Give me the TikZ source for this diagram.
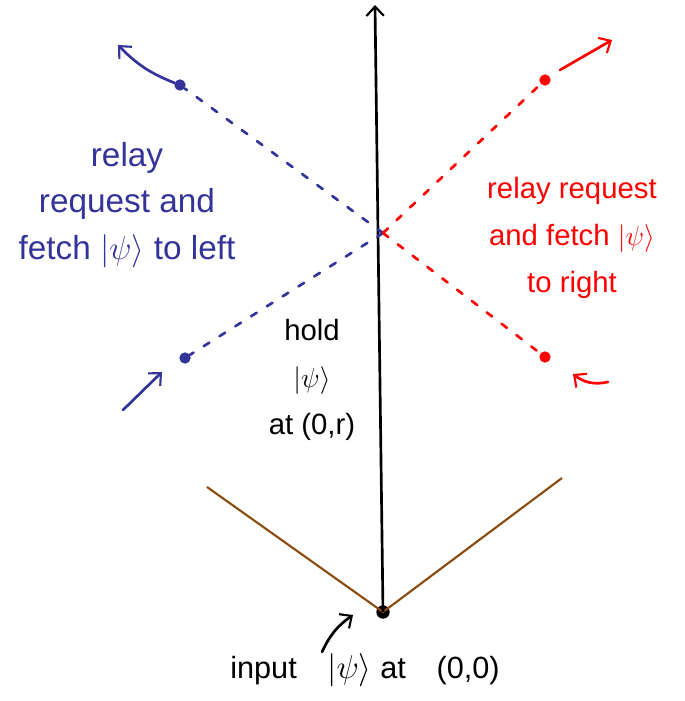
\documentclass[tikz,border=0pt]{standalone}
\usepackage{fontspec}
\setmainfont{Liberation Sans}
\usetikzlibrary{arrows.meta}
\definecolor{pen blue}{RGB}{51,51,153}
\definecolor{pen brown}{RGB}{140,75,15}
\newcommand{\psiket}{\ensuremath{|\psi\rangle}}
\begin{document}
\begin{tikzpicture}[
    x=0.75pt, y=-0.75pt,
    >={Straight Barb[length=7pt,width=13pt,line width=1.6pt]},
    dot/.style={circle, fill, inner sep=0pt, minimum size=8.5pt},
    note/.style={align=center, font=\fontsize{22}{35}\selectfont},
    signal/.style={line width=2pt, line cap=round, dash pattern=on 5pt off 9pt},
    move/.style={->, line width=2pt, line cap=round},
    cone/.style={pen brown, line width=1.6pt}
  ]
    \useasboundingbox (0,0) rectangle (685,701);

    % worldline and light cone at the origin
    \node[dot, minimum size=10pt] (o) at (383,612) {};
    \coordinate (top) at (375,5);
    \coordinate (r) at (383,233);
    \coordinate (coneL) at (207,487);
    \coordinate (coneR) at (562,478);

    \draw[cone] (coneL) -- (o.center) -- (coneR);
    \draw[->, line width=2pt] (o.center) -- (top);

    % relay to the left
    \node[dot, pen blue] (bl1) at (180,85) {};
    \node[dot, pen blue] (bl2) at (185,358) {};
    \coordinate (bl1tip) at (118,45);
    \coordinate (bl2tail) at (123,410);
    \draw[signal, pen blue] (r) -- (bl1);
    \draw[signal, pen blue] (r) -- (bl2);
    \draw[move, pen blue] (bl1) to[bend left=12] (bl1tip);
    \draw[move, pen blue] (bl2tail) -- (162,372);

    % relay to the right
    \node[dot, red] (rd1) at (545,80) {};
    \node[dot, red] (rd2) at (545,357) {};
    \coordinate (rd1tip) at (612,40);
    \coordinate (rd2tail) at (608,382);
    \draw[signal, red] (r) -- (rd1);
    \draw[signal, red] (r) -- (rd2);
    \draw[move, red] (560,70) -- (rd1tip);
    \draw[move, red] (rd2tail) to[bend left=25] (573,374);

    % labels
    \node[note, pen blue, font=\fontsize{25}{35}\selectfont] (lefttxt) at (127,205) {relay\\request and\\fetch \psiket{} to left};
    \node[note, red] (righttxt) at (572,238) {relay request\\and fetch \psiket\\to right};
    \node[note] (holdtxt) at (312,380) {hold\\\psiket\\at (0,r)};
    \node[font=\fontsize{23}{26}\selectfont] (inputtxt) at (365,670) {input\quad\psiket{} at\quad(0,0)};
    \coordinate (inarrow) at (322,652);
    \draw[move] (inarrow) to[bend left=15] (353,615);
  \end{tikzpicture}
\end{document}
